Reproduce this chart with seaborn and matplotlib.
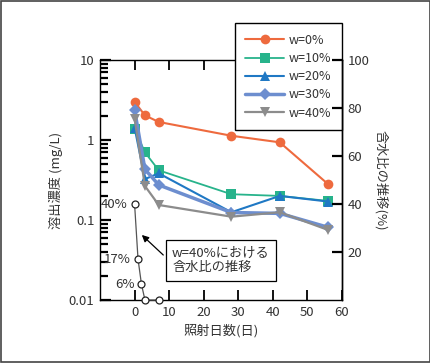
import matplotlib
matplotlib.use("Agg")
import matplotlib.pyplot as plt
import seaborn as sns
import pandas as pd
from matplotlib.patches import Rectangle
from matplotlib.ticker import FixedLocator, FuncFormatter, LogLocator, NullFormatter

# ---------------- data ----------------
days = [0, 3, 7, 28, 42, 56]
w0 = [3.0, 2.03, 1.68, 1.13, 0.935, 0.28]
w10 = [1.39, 0.70, 0.418, 0.21, 0.20, 0.173]
w20 = [1.43, 0.325, 0.383, 0.125, 0.20, 0.17]
w30 = [2.37, 0.43, 0.274, 0.124, 0.121, 0.081]
w40 = [1.85, 0.266, 0.154, 0.11, 0.125, 0.075]
series_labels = ["w=0%", "w=10%", "w=20%", "w=30%", "w=40%"]

water_days = [0, 1, 2, 3, 7]
water_ratio = [40, 17, 6.5, 0, 0]
water_point_labels = ["40%", "17%", "6%"]

xlabel = "照射日数(日)"
ylabel_left = "溶出濃度 (mg/L)"
ylabel_right = "含水比の推移(%)"
note_text = "w=40%における\n含水比の推移"

# ---------------- style ----------------
sns.set_style("ticks")
plt.rcParams["font.family"] = ["Noto Sans CJK JP", "DejaVu Sans"]
txt = "#333333"
plt.rcParams["text.color"] = txt
plt.rcParams["xtick.color"] = "black"
plt.rcParams["ytick.color"] = "black"
plt.rcParams["xtick.labelcolor"] = txt
plt.rcParams["ytick.labelcolor"] = txt

fig = plt.figure(figsize=(4.31, 3.63), dpi=100)
ax = fig.add_axes([100 / 431, 1 - 300 / 363, 242 / 431, 240 / 363])
ax2 = ax.twinx()

colors = ["#EE6A3E", "#27B38B", "#1F78C4", "#6D8ECF", "#8C8C8C"]
markers = ["o", "s", "^", "D", "v"]
msizes = [7, 7.5, 7.5, 6.5, 7.5]
lws = [1.5, 1.3, 1.5, 2.5, 1.6]
values = [w0, w10, w20, w30, w40]

for lab, vals, c, m, ms, lw in zip(series_labels, values, colors, markers, msizes, lws):
    df = pd.DataFrame({"day": days, "conc": vals})
    sns.lineplot(data=df, x="day", y="conc", ax=ax, color=c, marker=m,
                 markersize=ms, markeredgewidth=0, linewidth=lw, label=lab,
                 zorder=3)

ax.set_yscale("log")
ax.set_ylim(0.01, 10)
ax.set_xlim(-10, 60)
ax.set_xticks([0, 10, 20, 30, 40, 50, 60])
ax.yaxis.set_major_locator(FixedLocator([0.01, 0.1, 1, 10]))
ax.yaxis.set_major_formatter(FuncFormatter(lambda v, p: {0.01: "0.01", 0.1: "0.1", 1: "1", 10: "10"}.get(round(v, 3), "")))
ax.yaxis.set_minor_locator(LogLocator(base=10, subs=range(2, 10)))
ax.yaxis.set_minor_formatter(NullFormatter())
ax.tick_params(axis="x", which="both", direction="in", top=True, length=7, width=1.3, labelsize=9.5, pad=4)
ax.tick_params(axis="y", which="major", direction="in", length=8, width=1.6, labelsize=9.5, pad=4)
ax.tick_params(axis="y", which="minor", direction="in", length=6, width=1.6)
for s in ax.spines.values():
    s.set_color("black")
    s.set_linewidth(1.0)
ax.set_xlabel(xlabel, fontsize=9.5, labelpad=4, color=txt)
ax.set_ylabel(ylabel_left, fontsize=9.5, labelpad=4, color=txt)

# right axis: water ratio
wdf = pd.DataFrame({"day": water_days, "ratio": water_ratio})
sns.lineplot(data=wdf, x="day", y="ratio", ax=ax2, color="#555555", linewidth=0.9,
             marker="o", markersize=5, markerfacecolor="white",
             markeredgecolor="#222222", markeredgewidth=0.9, clip_on=False, legend=False)
ax2.set_ylim(0, 100)
ax2.set_yticks([20, 40, 60, 80, 100])
ax2.tick_params(axis="y", direction="in", length=7, width=1.6, labelsize=9.5, pad=4)
for k in ["top", "left", "bottom"]:
    ax2.spines[k].set_visible(False)
ax2.spines["right"].set_color("black")
ax2.spines["right"].set_linewidth(1.0)
ax2.set_ylabel(ylabel_right, fontsize=9.5, rotation=270, labelpad=13, color=txt)
ax2.set_xlabel("")

for i, lab in enumerate(water_point_labels):
    ax2.annotate(lab, (water_days[i], water_ratio[i]), xytext=(-5, 0),
                 textcoords="offset points", ha="right", va="center",
                 fontsize=9.5, color=txt)

# note box + arrow
ax.text(0.298, 0.165, note_text, transform=ax.transAxes, ha="left", va="center",
        fontsize=9.5, color=txt, linespacing=1.15,
        bbox=dict(boxstyle="square,pad=0.5", facecolor="white", edgecolor="black", linewidth=0.9))
ax.annotate("", xy=(2.1, 0.065), xytext=(8.3, 0.0365),
            arrowprops=dict(arrowstyle="-|>", color="black", lw=0.9,
                            mutation_scale=10, shrinkA=0, shrinkB=0))

# legend
leg = ax.legend(loc="upper right", bbox_to_anchor=(342 / 431, 1 - 23 / 363),
                bbox_transform=fig.transFigure, fontsize=9, frameon=True,
                fancybox=False, edgecolor="black", framealpha=1,
                handlelength=3.1, handletextpad=0.4, labelspacing=0.42,
                borderpad=0.85, borderaxespad=0)
leg.get_frame().set_linewidth(1.0)
leg.set_zorder(10)
for t in leg.get_texts():
    t.set_color(txt)

fig.patches.append(Rectangle((0.002, 0.003), 0.996, 0.994, transform=fig.transFigure,
                             fill=False, edgecolor="#444444", linewidth=1.2))

fig.savefig("out.png", dpi=100)
